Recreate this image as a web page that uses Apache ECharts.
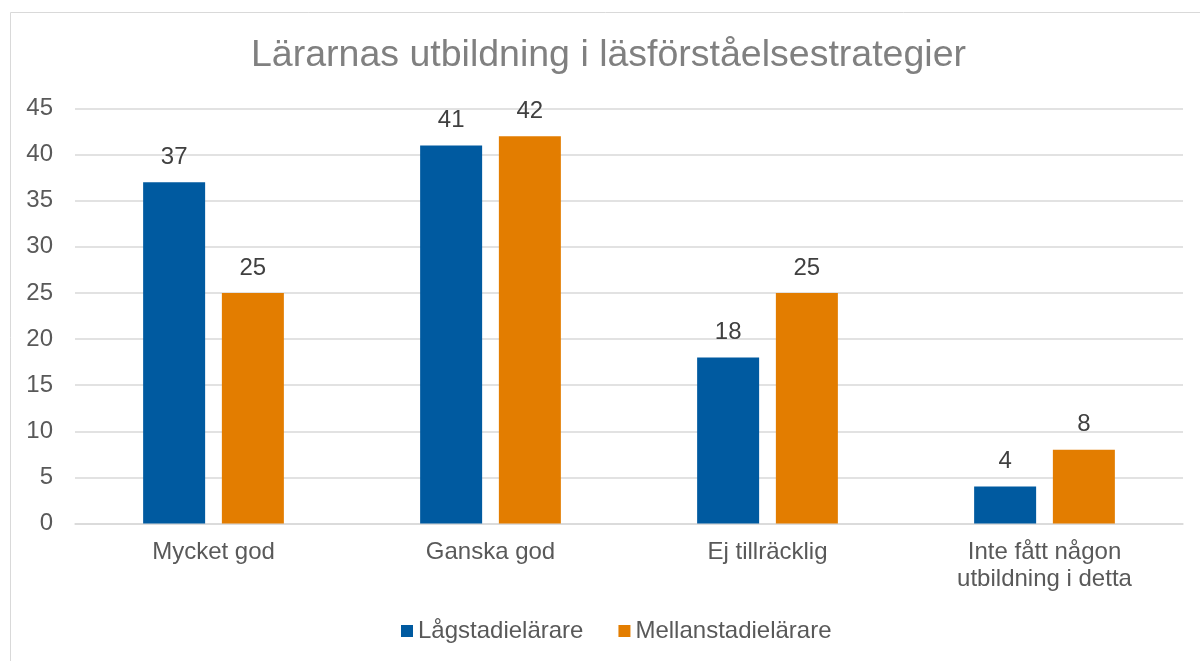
<!DOCTYPE html>
<html>
<head>
<meta charset="utf-8">
<script src="https://cdn.jsdelivr.net/npm/echarts@6/dist/echarts.min.js"></script>
<style>
html, body { margin: 0; padding: 0; background: #fff; }
#chart { width: 1200px; height: 661px; }
</style>
</head>
<body>
<div id="chart"></div>
<script>
// Lärarnas utbildning i läsförståelsestrategier
var categories = ['Mycket god', 'Ganska god', 'Ej tillräcklig', 'Inte fått någon\nutbildning i detta'];
var lagstadie = [37, 41, 18, 4];
var mellanstadie = [25, 42, 25, 8];
var seriesNames = ['Lågstadielärare', 'Mellanstadielärare'];

var font = 'Arial, "Liberation Sans", sans-serif';

var chart = echarts.init(document.getElementById('chart'));
var option = {
	animation: false,
	textStyle: { fontFamily: font },
	color: ['#005AA0', '#E37D00'],
	title: {
		text: 'Lärarnas utbildning i läsförståelsestrategier',
		left: 251,
		top: 37,
		padding: 0,
		textStyle: { fontFamily: font, fontSize: 37.5, fontWeight: 'normal', color: '#808080' }
	},
	graphic: [{
		type: 'rect',
		shape: { x: 10.5, y: 12.5, width: 1200, height: 660 },
		style: { fill: 'none', stroke: '#d9d9d9', lineWidth: 1 },
		silent: true
	}],
	legend: {
		bottom: 18,
		left: 401,
		padding: 0,
		itemWidth: 12,
		itemHeight: 12,
		itemGap: 35,
		icon: 'rect',
		textStyle: { fontFamily: font, fontSize: 24, color: '#595959' },
		data: seriesNames
	},
	grid: {
		left: 75,
		right: 17,
		top: 108.5,
		bottom: 137.5
	},
	xAxis: {
		type: 'category',
		data: categories,
		axisLine: { lineStyle: { color: '#d9d9d9', width: 1.5 } },
		axisTick: { show: false },
		axisLabel: { fontFamily: font, fontSize: 24, color: '#595959', margin: 15, lineHeight: 27 }
	},
	yAxis: {
		type: 'value',
		min: 0,
		max: 45,
		interval: 5,
		axisLine: { show: false },
		axisTick: { show: false },
		splitLine: { lineStyle: { color: '#d9d9d9', width: 1.5 } },
		axisLabel: { fontFamily: font, fontSize: 24, color: '#595959', margin: 22 }
	},
	series: [{
		name: seriesNames[0],
		type: 'bar',
		barWidth: 62,
		barGap: '27%',
		data: lagstadie,
		label: { show: true, position: 'top', distance: 13, fontFamily: font, fontSize: 24, color: '#404040' }
	}, {
		name: seriesNames[1],
		type: 'bar',
		barWidth: 62,
		barGap: '27%',
		data: mellanstadie,
		label: { show: true, position: 'top', distance: 13, fontFamily: font, fontSize: 24, color: '#404040' }
	}]
};
chart.setOption(option);
</script>
</body>
</html>
